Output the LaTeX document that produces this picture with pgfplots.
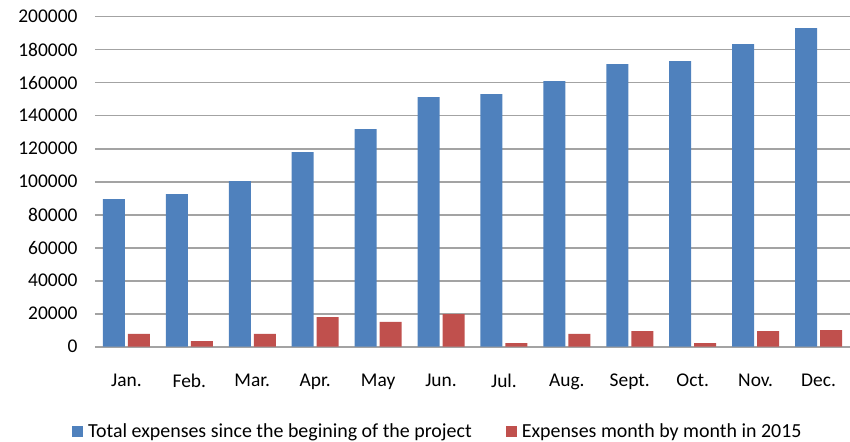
\documentclass[border=0pt]{standalone}
\usepackage{pgfplots}
\pgfplotsset{compat=1.18}
\usepackage{fontspec}
\setmainfont{Carlito}
\definecolor{cblue}{HTML}{4F81BD}
\definecolor{cred}{HTML}{C0504D}
\definecolor{cgrid}{HTML}{A3A3A3}
\definecolor{cbase}{HTML}{888888}
\begin{document}
\begin{tikzpicture}
\useasboundingbox (-95bp,-95.3bp) rectangle (755bp,346.7bp);
\begin{axis}[
  at={(0,0)}, anchor=south west, scale only axis,
  width=755bp, height=330bp,
  xmin=-0.5, xmax=11.5, ymin=0, ymax=200000,
  ybar=3bp, bar width=22bp,
  axis line style={draw=none},
  major tick length=0pt,
  xtick={0,...,11},
  xticklabels={Jan.,Feb.,Mar.,Apr.,May,Jun.,Jul.,Aug.,Sept.,Oct.,Nov.,Dec.},
  ytick={20000,40000,60000,80000,100000,120000,140000,160000,180000,200000},
  yticklabels={20000,40000,60000,80000,100000,120000,140000,160000,180000,200000},
  extra y ticks={0},
  extra y tick labels={0},
  extra y tick style={grid style={cbase, line width=2.2bp}},
  ymajorgrids, major grid style={cgrid, line width=1.6bp},
  scaled y ticks=false,
  yticklabel style={font=\fontsize{19.5}{19.5}\selectfont, xshift=-14bp},
  xticklabel style={font=\fontsize{19.5}{19.5}\selectfont, yshift=-24bp},
  legend columns=2,
  legend style={at={(0,0)}, anchor=west, xshift=-23bp, yshift=-85bp,
    draw=none, fill=none, inner sep=0pt,
    nodes={inner sep=0pt, font=\fontsize{20}{20}\selectfont},
    /tikz/every odd column/.append style={column sep=5bp},
    /tikz/every even column/.append style={column sep=34bp}},
  legend cell align=left,
]
\addplot[fill=cblue, draw=none,
  legend image code/.code={\fill[cblue] (0bp,-5.5bp) rectangle (11bp,5.5bp);}]
  coordinates {(0,89500) (1,92500) (2,100400) (3,118000) (4,131900) (5,151300)
               (6,153100) (7,161000) (8,171300) (9,173100) (10,183400) (11,193100)};
\addplot[fill=cred, draw=none,
  legend image code/.code={\fill[cred] (0bp,-5.5bp) rectangle (11bp,5.5bp);}]
  coordinates {(0,7700) (1,3450) (2,7700) (3,18000) (4,15000) (5,19800)
               (6,2200) (7,7700) (8,9500) (9,2200) (10,9500) (11,10100)};
\legend{Total expenses since the begining of the project, Expenses month by month in 2015}
\end{axis}
\end{tikzpicture}
\end{document}
